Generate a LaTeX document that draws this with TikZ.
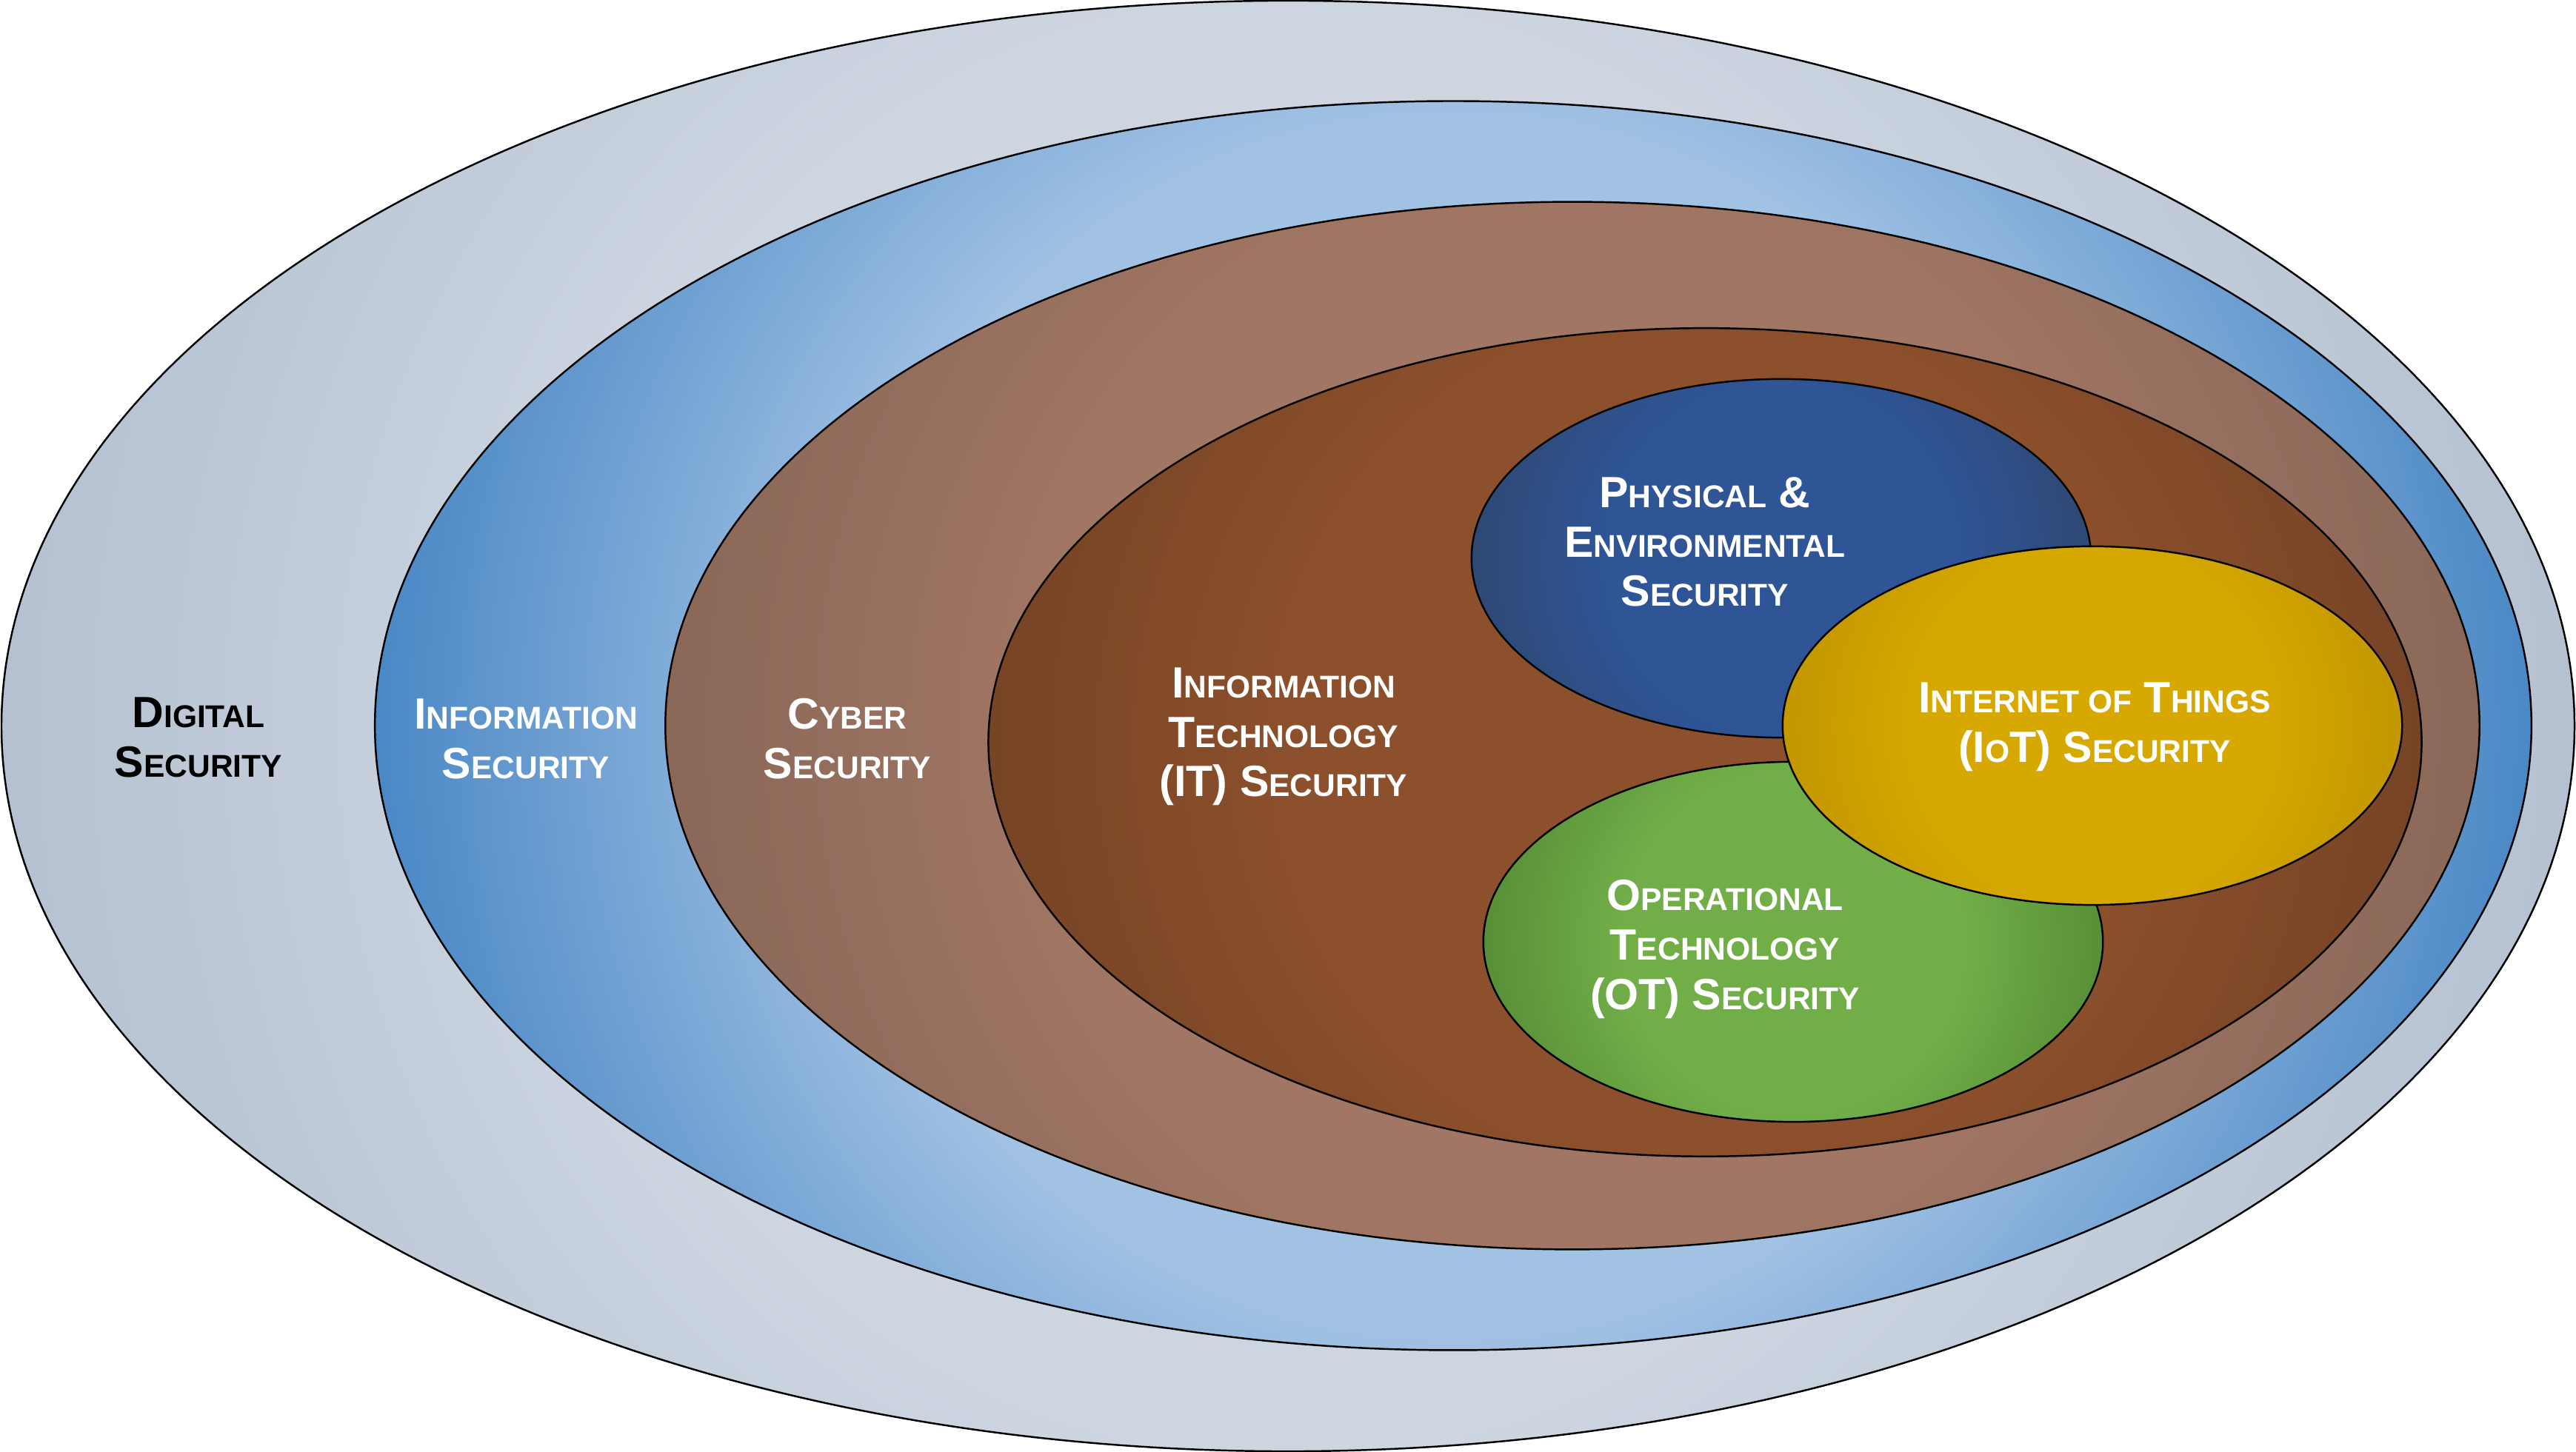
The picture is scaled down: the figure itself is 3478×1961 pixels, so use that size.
\documentclass[tikz,border=0pt]{standalone}
\usepackage{fontspec}
\setmainfont{Liberation Sans}
\usetikzlibrary{shapes.geometric}

\definecolor{digIn}{HTML}{CDD5E1}
\definecolor{digOut}{HTML}{B5C1D1}
\definecolor{infIn}{HTML}{A2C2E4}
\definecolor{infOut}{HTML}{4A88C5}
\definecolor{cybIn}{HTML}{A27664}
\definecolor{cybOut}{HTML}{8A6858}
\definecolor{itIn}{HTML}{8D502C}
\definecolor{itOut}{HTML}{774426}
\definecolor{phyIn}{HTML}{2F5597}
\definecolor{phyOut}{HTML}{2F4874}
\definecolor{otIn}{HTML}{71AE48}
\definecolor{otOut}{HTML}{578F37}
\definecolor{iotIn}{HTML}{D6A800}
\definecolor{iotOut}{HTML}{C29700}

\makeatletter
\pgfdeclareradialshading[tikz@radial@inner,tikz@radial@outer]{soft}{\pgfpoint{0bp}{0bp}}{color(0bp)=(tikz@radial@inner); color(14bp)=(tikz@radial@inner); color(25bp)=(tikz@radial@outer); color(50bp)=(tikz@radial@outer)}
\makeatother

% fake small caps
\newcommand{\smc}[1]{{\fontsize{12.1}{19}\selectfont #1}}

\begin{document}
\begin{tikzpicture}[x=0.01cm, y=0.01cm,
	ring/.style n args={4}{ellipse, draw=black, line width=0.7pt, inner sep=0pt,
		minimum width=2*#1, minimum height=2*#2,
		path picture={\shade[inner color=#3, outer color=#4, shading=soft]
			(path picture bounding box.center) circle (#1);}},
	tag/.style={align=center, text=white, font=\bfseries\fontsize{16.8}{19}\selectfont}]
		\useasboundingbox (0,0) rectangle (3478,1961);
		
		\node [ring={17.36cm}{9.79cm}{digIn}{digOut}] (dig) at (1739,980.5) {};
		\node [ring={14.55cm}{8.43cm}{infIn}{infOut}] (inf) at (1962,981) {};
		\node [ring={12.24cm}{7.07cm}{cybIn}{cybOut}] (cyb) at (2123,981) {};
		\node [ring={9.67cm}{5.59cm}{itIn}{itOut}] (it) at (2302,958.5) {};
		\node [ring={4.18cm}{2.42cm}{phyIn}{phyOut}] (phy) at (2405,1207) {};
		\node [ring={4.18cm}{2.43cm}{otIn}{otOut}] (ot) at (2421,689) {};
		\node [ring={4.18cm}{2.42cm}{iotIn}{iotOut}] (iot) at (2825,981) {};
		
		\node [tag, text=black] (digtxt) at (268,965) {D\smc{IGITAL}\\S\smc{ECURITY}};
		\node [tag] (inftxt) at (710,963) {I\smc{NFORMATION}\\S\smc{ECURITY}};
		\node [tag] (cybtxt) at (1144,963) {C\smc{YBER}\\S\smc{ECURITY}};
		\node [tag] (ittxt) at (1733,966) {I\smc{NFORMATION}\\T\smc{ECHNOLOGY}\\(IT) S\smc{ECURITY}};
		\node [tag] (phytxt) at (2302,1229) {P\smc{HYSICAL} \&\\E\smc{NVIRONMENTAL}\\S\smc{ECURITY}};
		\node [tag] (iottxt) at (2828,979) {I\smc{NTERNET OF} T\smc{HINGS}\\(I\smc{O}T) S\smc{ECURITY}};
		\node [tag] (ottxt) at (2329,679) {O\smc{PERATIONAL}\\T\smc{ECHNOLOGY}\\(OT) S\smc{ECURITY}};
	\end{tikzpicture}
\end{document}
